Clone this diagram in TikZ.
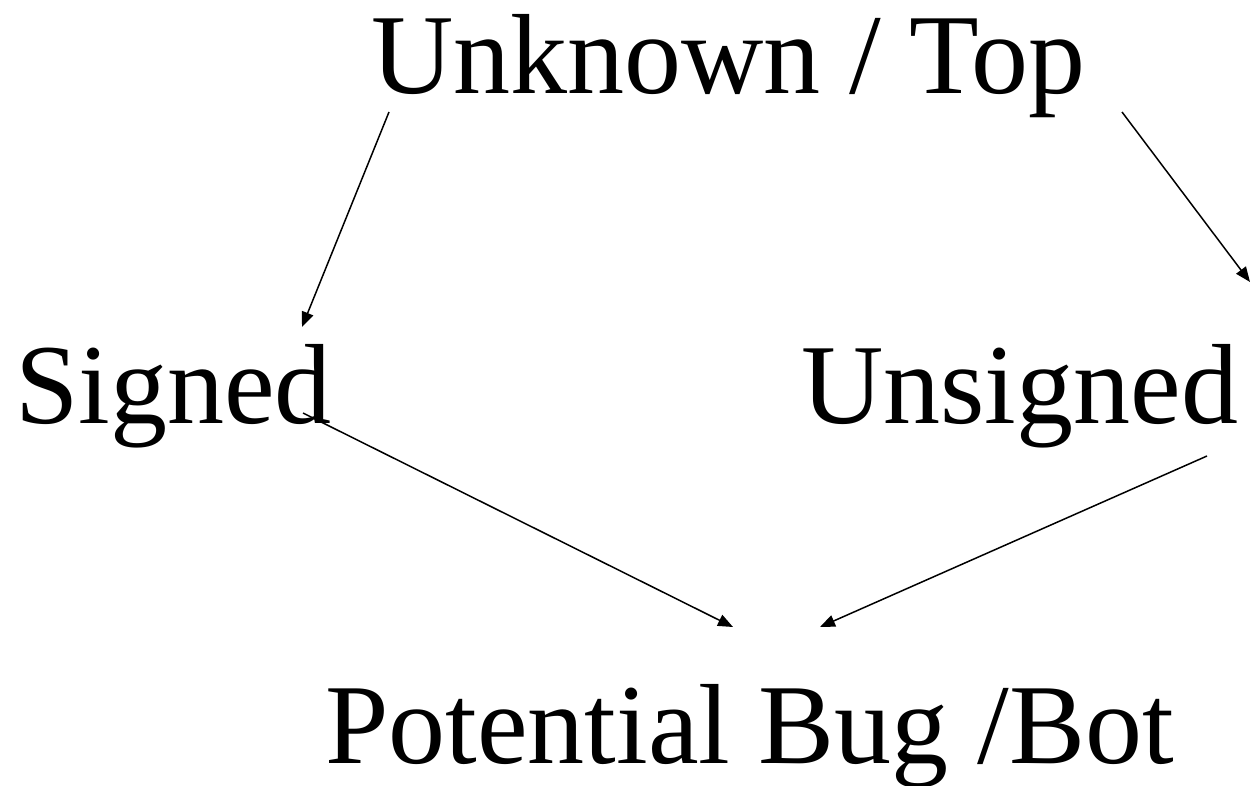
\documentclass[tikz,border=0pt]{standalone}
\usepackage{fontspec}
\setmainfont{Liberation Serif}
\usetikzlibrary{arrows.meta,calc}
\begin{document}
\begin{tikzpicture}[x=1pt,y=-1pt,
  lbl/.style={inner sep=0pt,outer sep=0pt,font=\fontsize{114}{130}\selectfont},
  conn/.style={line width=1.5pt,-{Triangle[length=15pt,width=12pt]}}]
\useasboundingbox (0,0) rectangle (1253,786);
\node[lbl,anchor=base west] (top) at (371,94) {Unknown / Top};
\node[lbl,anchor=base west] (sig) at (15,423) {Signed};
\node[lbl,anchor=base east] (uns) at (1238,423) {Unsigned};
\node[lbl,anchor=base west] (bot) at (325,763) {Potential Bug /Bot};
\draw[conn] ($(top.base west)+(18,18)$) -- ($(sig.base west)+(287,-96)$);
\draw[conn] ($(top.base west)+(751,18)$) -- ($(uns.base east)+(12,-141)$);
\draw[conn] ($(sig.base west)+(288,-10)$) -- ($(bot.base west)+(408,-136)$);
\draw[conn] ($(uns.base east)+(-31,33)$) -- ($(bot.base west)+(495,-136)$);
\end{tikzpicture}
\end{document}
